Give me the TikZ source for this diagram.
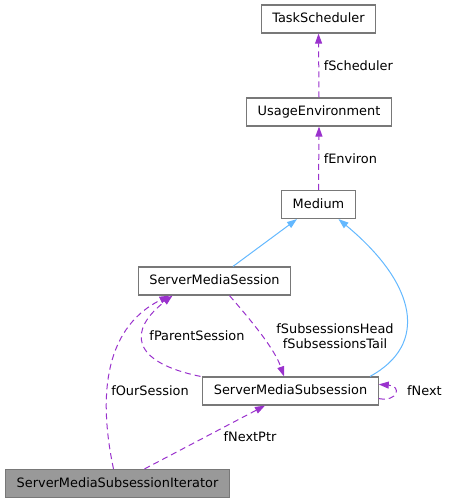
\documentclass[tikz,border=0pt]{standalone}
\usepackage{fontspec}
\setmainfont{DejaVu Sans}
\usetikzlibrary{arrows.meta}
\definecolor{dep}{RGB}{154,50,205}
\definecolor{inh}{RGB}{99,184,255}
\definecolor{bord}{RGB}{120,120,120}
\begin{document}
\begin{tikzpicture}[x=1pt,y=-1pt,
  every node/.style={font=\fontsize{12.9}{15}\selectfont},
  cls/.style={draw=bord, line width=1.2pt, fill=white, inner xsep=11pt, inner ysep=0pt, minimum height=28pt, text height=9.5pt, text depth=2.5pt},
  depline/.style={draw=dep, line width=1pt, dash pattern=on 6pt off 4pt, -{Triangle[length=10pt,width=7pt,fill=dep]}},
  inhline/.style={draw=inh, line width=1pt, -{Triangle[length=10pt,width=7pt,fill=inh]}},
  lbl/.style={inner sep=0pt, text=black}]
\useasboundingbox (0,0) rectangle (448,503);
\node[cls] (ts) at (318.5,19) {TaskScheduler};
\node[cls] (ue) at (319,112) {UsageEnvironment};
\node[cls] (med) at (318.5,204.5) {Medium};
\node[cls] (sms) at (214.5,281) {ServerMediaSession};
\node[cls] (ssub) at (290.5,391) {ServerMediaSubsession};
\node[cls, fill={rgb,255:red,153;green,153;blue,153}] (it) at (117.5,483.5) {ServerMediaSubsessionIterator};

\draw[depline] (ue.north) -- (ts.south) node[lbl, pos=0.5, right=4.5pt] {fScheduler};
\draw[depline] (med.north) -- (ue.south) node[lbl, pos=0.5, right=4.5pt] {fEnviron};
\draw[inhline] ([xshift=18.5]sms.north) -- ([xshift=-21.5]med.south);
\draw[inhline] ([xshift=79.5]ssub.north) .. controls (428,345) and (418,285) .. ([xshift=20]med.south);
\draw[depline] ([xshift=15]sms.south) .. controls (255,325) and (275,350) .. ([xshift=-6.5]ssub.north);
\node[lbl, align=center] (lh) at (335,336) {fSubsessionsHead\\fSubsessionsTail};
\draw[depline] ([xshift=-90]ssub.north) .. controls (130,362) and (128,330) .. ([xshift=-42]sms.south);
\node[lbl] (lp) at (197,336) {fParentSession};
\draw[depline] ([xshift=-4]it.north) .. controls (100,405) and (100,330) .. ([xshift=-45]sms.south);
\node[lbl] (lo) at (150,391) {fOurSession};
\draw[depline] ([xshift=27]it.north) -- ([xshift=-25.5]ssub.south);
\node[lbl] (ln) at (250,437) {fNextPtr};
\draw[depline] ([yshift=7]ssub.south east) .. controls (398,402) and (402,386) .. ([yshift=-8]ssub.north east);
\node[lbl, anchor=west] (lx) at (407,391) {fNext};
\end{tikzpicture}
\end{document}
